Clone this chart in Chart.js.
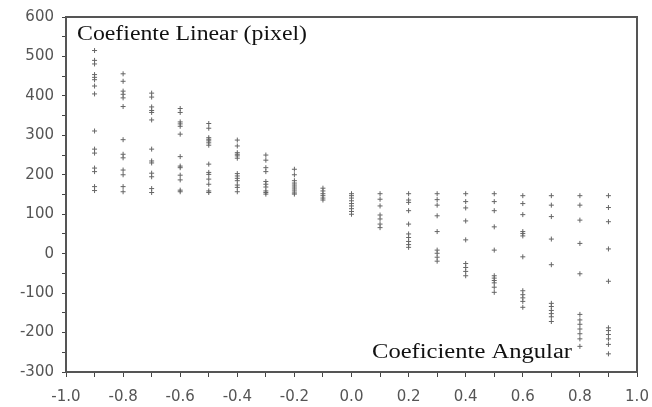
<!DOCTYPE html>
<html lang="en">
<head>
    <meta charset="UTF-8">
    <title>Coeficiente Linear x Coeficiente Angular</title>
    <style>
        html, body { margin: 0; padding: 0; background: #fff; }
        canvas { display: block; }
    </style>
</head>
<body>

<canvas id="myChart" width="652" height="407"></canvas>

<script src="https://cdn.jsdelivr.net/npm/chart.js@4/dist/chart.umd.min.js"></script>

<script>
    // x positions of the point columns (coeficiente angular)
    var angularValues = [-0.9, -0.8, -0.7, -0.6, -0.5, -0.4, -0.3, -0.2, -0.1, 0.0,
                         0.1, 0.2, 0.3, 0.4, 0.5, 0.6, 0.7, 0.8, 0.9];

    // coeficiente linear (pixel)
    var colM09 = [515, 490, 481, 454, 447, 441, 425, 405, 311, 265, 255, 217, 208, 170, 160];
    var colM08 = [456, 437, 412, 404, 395, 373, 289, 252, 243, 212, 200, 170, 157];
    var colM07 = [407, 397, 372, 363, 358, 339, 265, 235, 230, 204, 195, 165, 155];
    var colM06 = [368, 358, 334, 329, 323, 303, 246, 222, 218, 199, 187, 161, 157];
    var colM05 = [330, 318, 294, 290, 286, 281, 275, 227, 206, 201, 189, 176, 159, 155];
    var colM04 = [288, 273, 256, 252, 248, 242, 203, 197, 191, 185, 174, 168, 157];
    var colM03 = [250, 237, 218, 208, 183, 176, 169, 159, 155, 151];
    var colM02 = [214, 200, 185, 179, 174, 169, 164, 159, 154, 151];
    var colM01 = [166, 159, 152, 147, 141, 136];
    var col00  = [152, 147, 141, 134, 127, 121, 114, 107, 100];
    var colP01 = [152, 138, 121, 98, 88, 75, 66];
    var colP02 = [152, 136, 130, 109, 75, 50, 41, 31, 23, 16];
    var colP03 = [152, 137, 123, 96, 56, 9, 1, -9, -19];
    var colP04 = [152, 132, 116, 83, 35, -25, -35, -45, -56];
    var colP05 = [152, 132, 109, 68, 9, -56, -62, -68, -74, -85, -98];
    var colP06 = [147, 127, 99, 56, 51, 45, -8, -94, -104, -112, -121, -136];
    var colP07 = [147, 123, 94, 37, -28, -126, -134, -144, -152, -160, -172];
    var colP08 = [147, 123, 85, 26, -51, -154, -168, -179, -191, -203, -216, -235];
    var colP09 = [147, 117, 81, 12, -70, -188, -195, -205, -216, -230, -254];

    var columns = [colM09, colM08, colM07, colM06, colM05, colM04, colM03, colM02, colM01, col00,
                   colP01, colP02, colP03, colP04, colP05, colP06, colP07, colP08, colP09];

    var yTitle = 'Coefiente Linear (pixel)';
    var xTitle = 'Coeficiente Angular';

    var points = [];
    columns.forEach(function (col, i) {
        col.forEach(function (v) {
            points.push({ x: angularValues[i], y: v });
        });
    });

    // frame around the plot and the two serif captions inside it
    var framePlugin = {
        id: 'frame',
        afterDraw: function (chart) {
            var ctx = chart.ctx, a = chart.chartArea;
            ctx.save();
            ctx.strokeStyle = '#555';
            ctx.lineWidth = 2;
            ctx.strokeRect(a.left, a.top, a.right - a.left, a.bottom - a.top);

            ctx.fillStyle = '#111';
            ctx.font = '20px "Liberation Serif", "DejaVu Serif", serif';
            ctx.textBaseline = 'alphabetic';
            drawFitted(ctx, yTitle, a.left + 11, a.top + 23, 230);
            drawFitted(ctx, xTitle, a.left + 306, a.bottom - 14, 200);
            ctx.restore();
        }
    };

    function drawFitted(ctx, text, x, y, width) {
        var w = ctx.measureText(text).width;
        ctx.save();
        ctx.translate(x, y);
        ctx.scale(width / w, 1);
        ctx.fillText(text, 0, 0);
        ctx.restore();
    }

    var tickFont = { family: '"DejaVu Sans", Arial, sans-serif', size: 15 };

    new Chart(document.getElementById('myChart'), {
        type: 'scatter',
        data: {
            datasets: [{
                data: points,
                pointStyle: 'cross',
                pointRadius: 2.5,
                borderWidth: 1,
                borderColor: '#666',
                backgroundColor: '#666'
            }]
        },
        options: {
            responsive: false,
            animation: false,
            layout: { padding: { left: 0, right: 15, top: 16, bottom: 0 } },
            plugins: { legend: { display: false }, tooltip: { enabled: false } },
            scales: {
                x: {
                    type: 'linear',
                    min: -1, max: 1,
                    afterFit: function (s) {
                        s.height = 35;
                        s.paddingLeft = 0;
                        s.paddingRight = 0;
                    },
                    grid: { drawOnChartArea: false, tickLength: 5, color: '#444' },
                    border: { color: '#555', width: 2 },
                    ticks: {
                        stepSize: 0.1,
                        autoSkip: false,
                        maxRotation: 0,
                        padding: 11,
                        color: '#555',
                        font: tickFont,
                        callback: function (v) {
                            var t = Math.round(v * 10);
                            return t % 2 === 0 ? (t / 10).toFixed(1) : '';
                        }
                    }
                },
                y: {
                    min: -300, max: 600,
                    afterFit: function (s) { s.width = 66; },
                    grid: { drawOnChartArea: false, tickLength: 4, color: '#444' },
                    border: { color: '#555', width: 2 },
                    ticks: {
                        stepSize: 50,
                        autoSkip: false,
                        padding: 8,
                        color: '#555',
                        font: tickFont,
                        callback: function (v) {
                            return v % 100 === 0 ? String(v) : '';
                        }
                    }
                }
            }
        },
        plugins: [framePlugin]
    });
</script>

</body>
</html>
